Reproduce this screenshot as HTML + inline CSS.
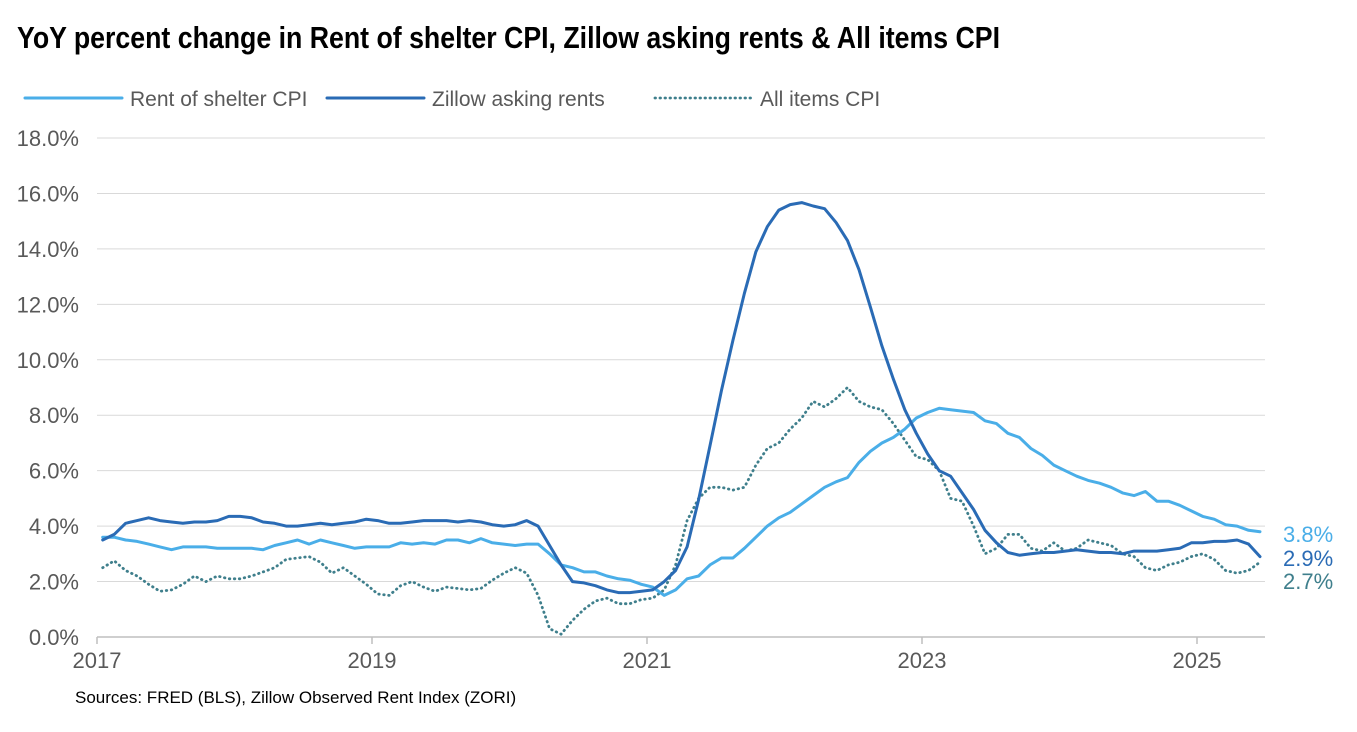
<!DOCTYPE html>
<html><head><meta charset="utf-8"><style>
body{margin:0;background:#fff;width:1357px;height:732px;overflow:hidden;font-family:"Liberation Sans",sans-serif}
svg{position:absolute;left:0;top:0}
</style></head><body>
<svg width="1357" height="732">
<text x="17" y="48" font-family="'Liberation Sans Narrow','Liberation Sans',sans-serif" font-weight="bold" font-size="31" textLength="983" lengthAdjust="spacingAndGlyphs" fill="#000">YoY percent change in Rent of shelter CPI, Zillow asking rents &amp; All items CPI</text>
<g id="legend"></g>
<g id="grid"></g>
<g id="yticks"></g>
<g id="xticks"></g>
<g id="series"></g>
<g id="endlabels"></g>
<text x="75" y="703" font-size="17" fill="#000">Sources: FRED (BLS), Zillow Observed Rent Index (ZORI)</text>
</svg>
<script>
const yTicks=[0,2,4,6,8,10,12,14,16,18];
const xYears=[2017,2019,2021,2023,2025];
const shelter=[3.6,3.6,3.5,3.45,3.35,3.25,3.15,3.25,3.25,3.25,3.2,3.2,
3.2,3.2,3.15,3.3,3.4,3.5,3.35,3.5,3.4,3.3,3.2,3.25,
3.25,3.25,3.4,3.35,3.4,3.35,3.5,3.5,3.4,3.55,3.4,3.35,
3.3,3.35,3.35,3.0,2.6,2.5,2.35,2.35,2.2,2.1,2.05,1.9,
1.8,1.5,1.7,2.1,2.2,2.6,2.85,2.85,3.2,3.6,4.0,4.3,
4.5,4.8,5.1,5.4,5.6,5.75,6.3,6.7,7.0,7.2,7.5,7.9,
8.1,8.25,8.2,8.15,8.1,7.8,7.7,7.35,7.2,6.8,6.55,6.2,
6.0,5.8,5.65,5.55,5.4,5.2,5.1,5.25,4.9,4.9,4.75,4.55,
4.35,4.25,4.05,4.0,3.85,3.8];
const zillow=[3.5,3.7,4.1,4.2,4.3,4.2,4.15,4.1,4.15,4.15,4.2,4.35,
4.35,4.3,4.15,4.1,4.0,4.0,4.05,4.1,4.05,4.1,4.15,4.25,
4.2,4.1,4.1,4.15,4.2,4.2,4.2,4.15,4.2,4.15,4.05,4.0,
4.05,4.2,4.0,3.3,2.6,2.0,1.95,1.85,1.7,1.6,1.6,1.65,
1.7,2.0,2.4,3.25,4.95,6.9,8.9,10.7,12.4,13.9,14.8,15.4,
15.6,15.67,15.55,15.45,14.95,14.3,13.25,11.9,10.5,9.3,8.2,7.35,
6.6,6.0,5.8,5.2,4.6,3.85,3.4,3.05,2.95,3.0,3.05,3.05,
3.1,3.15,3.1,3.05,3.05,3.0,3.1,3.1,3.1,3.15,3.2,3.4,
3.4,3.45,3.45,3.5,3.35,2.9];
const cpi=[2.5,2.75,2.4,2.2,1.9,1.65,1.7,1.9,2.2,2.0,2.2,2.1,
2.1,2.2,2.35,2.5,2.8,2.85,2.9,2.7,2.3,2.5,2.2,1.9,
1.55,1.5,1.85,2.0,1.8,1.65,1.8,1.75,1.7,1.75,2.05,2.3,
2.5,2.3,1.5,0.3,0.1,0.6,1.0,1.3,1.4,1.2,1.2,1.35,
1.4,1.7,2.6,4.2,5.0,5.4,5.4,5.3,5.4,6.2,6.8,7.0,
7.5,7.9,8.5,8.3,8.6,9.0,8.5,8.3,8.2,7.7,7.1,6.5,
6.4,6.0,5.0,4.9,4.0,3.0,3.2,3.7,3.7,3.2,3.1,3.4,
3.1,3.2,3.5,3.4,3.3,3.0,2.9,2.5,2.4,2.6,2.7,2.9,
3.0,2.8,2.4,2.3,2.4,2.7];
const seriesNames=["Rent of shelter CPI","Zillow asking rents","All items CPI"];
const endLabels=["3.8%","2.9%","2.7%"];
const NS="http://www.w3.org/2000/svg";
const X0=97,X1=1265,YB=637,PX=27.72,MW=137.5/12;
const yS=v=>YB-v*PX;
const xM=m=>X0+(m+0.5)*MW;
const xY=y=>X0+(y-2017)*137.5;
function mk(tag,attrs,parent){const e=document.createElementNS(NS,tag);for(const k in attrs)e.setAttribute(k,attrs[k]);parent.appendChild(e);return e;}
const grid=document.getElementById('grid'),yt=document.getElementById('yticks'),xt=document.getElementById('xticks');
yTicks.forEach(v=>{
 if(v>0){const l=mk('line',{x1:X0,x2:X1,y1:yS(v),y2:yS(v),stroke:'#d9d9d9','stroke-width':1},grid);
 
 }
 const t=mk('text',{x:79,y:yS(v)+8,'text-anchor':'end','font-size':22,fill:'#595959'},yt);
 t.textContent=v.toFixed(1)+'%';
 
 
});
const ax=mk('line',{x1:X0,x2:X1,y1:YB,y2:YB,stroke:'#bfbfbf','stroke-width':1.5},xt);


xYears.forEach(y=>{
 const x=xY(y);
 const tk=mk('line',{x1:x,x2:x,y1:YB,y2:YB+7,stroke:'#bfbfbf','stroke-width':1.5},xt);
 
 
 const t=mk('text',{x:x,y:YB+31,'text-anchor':'middle','font-size':22,fill:'#595959'},xt);
 t.textContent=y;
 
 
});
const styles=[{c:'#4aaee8',w:3,d:null},{c:'#2a6bb5',w:3,d:null},{c:'#3f7f8c',w:2.8,d:'0.5 4.5'}];
const data=[shelter,zillow,cpi];
const sg=document.getElementById('series');
[2,0,1].forEach(i=>{
 const pts=data[i].map((v,m)=>xM(m).toFixed(1)+','+yS(v).toFixed(1)).join(' ');
 const a={points:pts,fill:'none',stroke:styles[i].c,'stroke-width':styles[i].w,'stroke-linejoin':'round','stroke-linecap':'round'};
 if(styles[i].d)a['stroke-dasharray']=styles[i].d;
 const p=mk('polyline',a,sg);
 
 
});
const el=document.getElementById('endlabels');
const ely=[534,558,581],elc=['#4aaee8','#2a6bb5','#3f7f8c'];
endLabels.forEach((s,i)=>{
 const t=mk('text',{x:1283,y:ely[i]+8,'font-size':22,fill:elc[i]},el);
 t.textContent=s;
 
 
});
const lg=document.getElementById('legend');
const lx=[25,327,655];
seriesNames.forEach((n,i)=>{
 const a={x1:lx[i],x2:lx[i]+97,y1:98,y2:98,stroke:styles[i].c,'stroke-width':styles[i].w,'stroke-linecap':'round'};
 if(styles[i].d)a['stroke-dasharray']=styles[i].d;
 const l=mk('line',a,lg);
 
 
 const t=mk('text',{x:lx[i]+105,y:106,'font-size':21,fill:'#595959'},lg);
 t.textContent=n;
 
 
});
</script>
</body></html>
